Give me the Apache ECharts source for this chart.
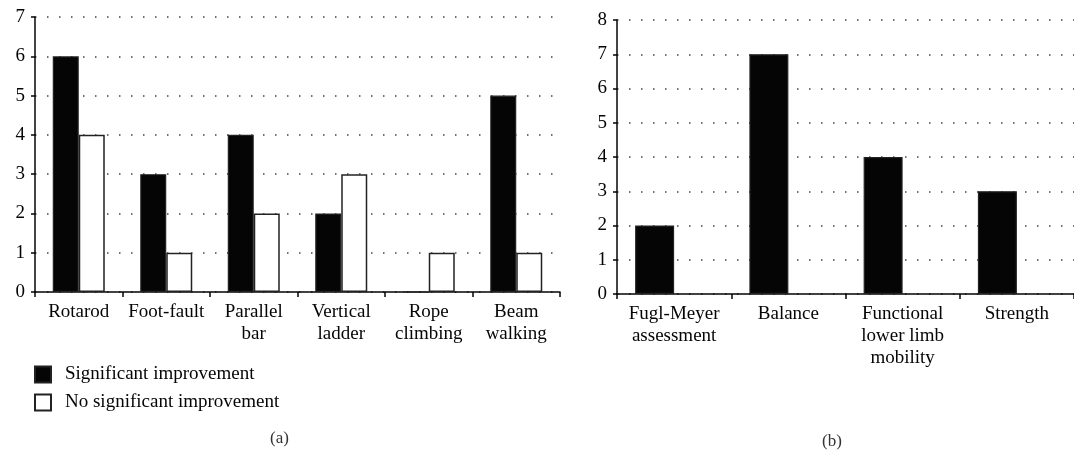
<!DOCTYPE html>
<html>
<head>
<meta charset="utf-8">
<script src="https://cdn.jsdelivr.net/npm/echarts@6/dist/echarts.min.js"></script>
<style>
  html, body { margin: 0; padding: 0; background: #fff; }
  #chart { width: 1074px; height: 451px; }
</style>
</head>
<body>
<div id="chart"></div>
<script>
// (a) animal tests
const categoriesA = ['Rotarod', 'Foot-fault', 'Parallel\nbar', 'Vertical\nladder', 'Rope\nclimbing', 'Beam\nwalking']
const significantA = [6, 3, 4, 2, 0, 5]
const noSignificantA = [4, 1, 2, 3, 1, 1]
const ticksA = [0, 1, 2, 3, 4, 5, 6, 7]

// (b) clinical outcomes
const categoriesB = ['Fugl-Meyer\nassessment', 'Balance', 'Functional\nlower limb\nmobility', 'Strength']
const significantB = [2, 7, 4, 3]
const emptyB = [null, null, null, null] // second slot left blank in the source figure
const ticksB = [0, 1, 2, 3, 4, 5, 6, 7, 8]

const font = 'Liberation Serif, Times New Roman, serif'
const ink = '#050505'

function xAxisOf(idx, data) {
  return {
    type: 'category',
    gridIndex: idx,
    data: data,
    axisLine: { lineStyle: { color: ink, width: 1.5 } },
    axisTick: { show: true, length: 5, lineStyle: { color: ink, width: 1.5 } },
    axisLabel: { color: ink, fontFamily: font, fontSize: 19, lineHeight: 22, margin: 9, interval: 0 }
  }
}

function yAxisOf(idx, ticks) {
  return {
    type: 'value',
    gridIndex: idx,
    min: ticks[0],
    max: ticks[ticks.length - 1],
    interval: 1,
    axisLine: { show: true, lineStyle: { color: ink, width: 1.5 } },
    axisTick: { show: true, length: 4, lineStyle: { color: ink, width: 1.5 } },
    axisLabel: { color: ink, fontFamily: font, fontSize: 19, margin: 10 },
    splitLine: { show: true, lineStyle: { color: '#444', width: 1.5, type: [1.5, 10.5] } }
  }
}

const chart = echarts.init(document.getElementById('chart'))
chart.setOption({
  animation: false,
  textStyle: { fontFamily: font },
  title: [
    { text: '(a)', left: 270, top: 430, padding: 0, textStyle: { fontFamily: font, fontSize: 17, fontWeight: 'normal', color: '#333' } },
    { text: '(b)', left: 822, top: 433, padding: 0, textStyle: { fontFamily: font, fontSize: 17, fontWeight: 'normal', color: '#333' } }
  ],
  legend: {
    data: ['Significant improvement', 'No significant improvement'],
    orient: 'vertical',
    left: 34,
    top: 365,
    padding: 0,
    itemWidth: 16,
    itemHeight: 16,
    itemGap: 9,
    icon: 'rect',
    textStyle: { fontFamily: font, fontSize: 19, color: ink, padding: [0, 0, 0, 9] }
  },
  grid: [
    { left: 35, right: 514, top: 17, bottom: 159 },
    { left: 617, right: 0, top: 20, bottom: 157 }
  ],
  xAxis: [xAxisOf(0, categoriesA), xAxisOf(1, categoriesB)],
  yAxis: [yAxisOf(0, ticksA), yAxisOf(1, ticksB)],
  series: [
    {
      name: 'Significant improvement',
      type: 'bar',
      xAxisIndex: 0,
      yAxisIndex: 0,
      barWidth: 26,
      barGap: '0%',
      itemStyle: { color: ink, borderColor: '#222', borderWidth: 1.2 },
      data: significantA
    },
    {
      name: 'No significant improvement',
      type: 'bar',
      xAxisIndex: 0,
      yAxisIndex: 0,
      barWidth: 26,
      barGap: '0%',
      itemStyle: { color: '#fff', borderColor: '#222', borderWidth: 1.5 },
      data: noSignificantA
    },
    {
      name: 'Outcome',
      type: 'bar',
      xAxisIndex: 1,
      yAxisIndex: 1,
      barWidth: 39,
      barGap: '0%',
      itemStyle: { color: ink, borderColor: '#222', borderWidth: 1.2 },
      data: significantB
    },
    {
      name: 'Outcome blank',
      type: 'bar',
      xAxisIndex: 1,
      yAxisIndex: 1,
      barWidth: 39,
      barGap: '0%',
      data: emptyB
    }
  ]
})
</script>
</body>
</html>
